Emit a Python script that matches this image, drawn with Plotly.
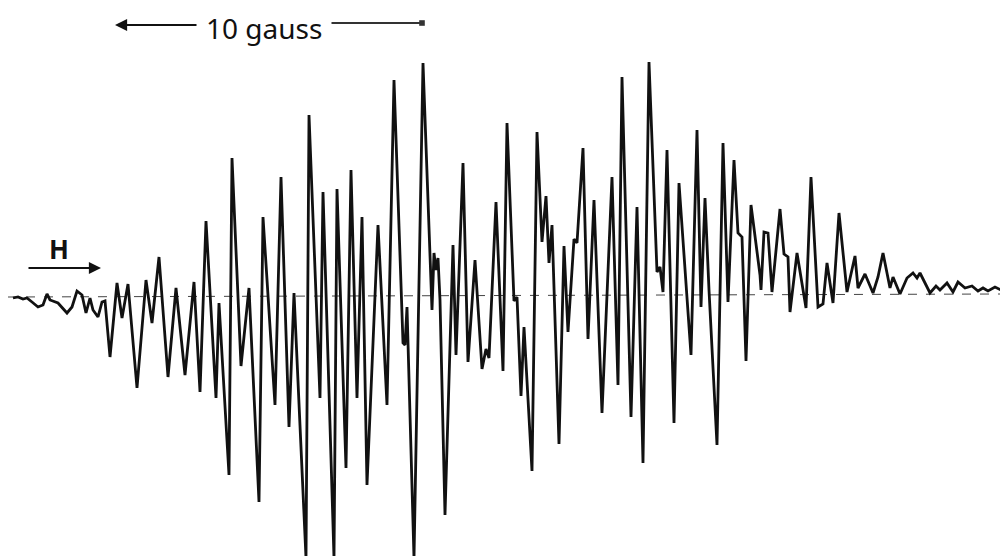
import plotly.graph_objects as go

# Magnetic field (arbitrary units, increasing to the right) and derivative signal (arbitrary units)
field = [13, 18, 23, 27, 32, 38, 43, 47, 50, 58, 67, 72, 77, 82, 86, 90, 93, 98, 102, 105,
         110, 117, 122, 128, 137, 146, 152, 159, 168, 176, 185, 194, 200, 206, 216, 219, 229,
         232, 241, 249, 259, 263, 275, 281, 289, 294, 306, 309, 320, 323, 334, 337, 346, 351,
         357, 362, 367, 378, 387, 394, 403, 405, 407, 414, 423, 432, 434, 436, 438, 440, 445,
         453, 456, 463, 468, 475, 482, 486, 489, 496, 503, 507, 514, 517, 521, 524, 532, 537,
         542, 546, 549, 552, 559, 564, 568, 574, 577, 583, 588, 594, 602, 612, 618, 622, 631,
         637, 643, 649, 657, 660, 663, 667, 674, 679, 691, 697, 701, 705, 709, 717, 723, 728,
         734, 738, 742, 746, 751, 760, 761, 764, 768, 772, 780, 784, 788, 790, 797, 806, 811,
         818, 823, 827, 833, 839, 847, 855, 858, 865, 873, 878, 883, 890, 893, 900, 907, 913,
         917, 920, 930, 936, 940, 947, 953, 958, 965, 972, 978, 983, 988, 995, 1003]
signal = [-2, -1, -3, -2, -6, -11, -9, 2, -4, -7, -17, -11, 5, 1, -17, -2, -14, -21, -6, -5,
          -61, 13, -22, 12, -92, 16, -27, 39, -81, 8, -79, 14, -96, 75, -102, -7, -179,
          138, -70, 8, -206, 79, -109, 119, -131, 3, -262, 181, -102, 104, -262, 107, -172, 126,
          -102, 79, -189, 71, -109, 216, -47, -49, -11, -262, 233, -14, 43, 26, 38, -4, -219,
          51, -59, 133, -66, 36, -73, -53, -62, 94, -75, 173, -5, -1, -100, -31, -175, 164,
          54, 100, 33, 71, -148, 50, -36, 57, 53, 148, -43, 96, -117, 119, -89, 219, -121,
          89, -167, 234, 24, 29, 4, 146, -127, 113, -59, 166, -11, 98, 6, -149, 153, -6,
          136, 63, 59, -65, 91, 21, 6, 64, 63, 4, 87, 42, 39, -16, 43, -12, 119,
          -11, -8, 33, -7, 83, 4, 40, 8, 22, 3, 19, 43, 8, 19, 2, 18, 23,
          18, 23, 3, 10, 6, 13, 4, 14, 8, 10, 5, 8, 5, 9, 5]

# Horizontal reference (zero) line
baseline_field = [8, 1000]
baseline_signal = [-1, 2]

fig = go.Figure()
fig.add_trace(go.Scatter(x=baseline_field, y=baseline_signal, mode="lines",
                         line=dict(color="#444444", width=1, dash="dash"),
                         hoverinfo="skip", showlegend=False))
fig.add_trace(go.Scatter(x=field, y=signal, mode="lines",
                         line=dict(color="#111111", width=2.8),
                         showlegend=False))

# "10 gauss" scale bar
fig.add_annotation(x=115, y=271, ax=198, ay=271, xref="x", yref="y", axref="x", ayref="y",
                   text="", showarrow=True, arrowhead=2, arrowsize=1.1, arrowwidth=2.2,
                   arrowcolor="#111111")
fig.add_annotation(x=422, y=273, ax=330, ay=273, xref="x", yref="y", axref="x", ayref="y",
                   text="", showarrow=True, arrowhead=7, arrowsize=0.7, arrowwidth=2,
                   arrowcolor="#333333")
fig.add_annotation(x=264, y=268, xref="x", yref="y", text="10 gauss", showarrow=False,
                   borderpad=0,
                   font=dict(family="Noto Sans", size=28, color="#111111"))

# Field direction arrow
fig.add_annotation(x=101, y=28, ax=27, ay=28, xref="x", yref="y", axref="x", ayref="y",
                   text="", showarrow=True, arrowhead=2, arrowsize=1.1, arrowwidth=2.2,
                   arrowcolor="#111111")
fig.add_annotation(x=59, y=47, xref="x", yref="y", text="<b>H</b>", showarrow=False,
                   font=dict(family="Noto Sans", size=26, color="#111111"))

# The page body has an 8px margin, so the figure is 8px smaller and the ranges start 8 units in
fig.update_layout(width=1000, height=548, margin=dict(l=0, r=0, t=0, b=0),
                  paper_bgcolor="white", plot_bgcolor="white")
fig.update_xaxes(range=[8, 1008], visible=False)
fig.update_yaxes(range=[-260, 288], visible=False)

fig.write_html("out.html")
